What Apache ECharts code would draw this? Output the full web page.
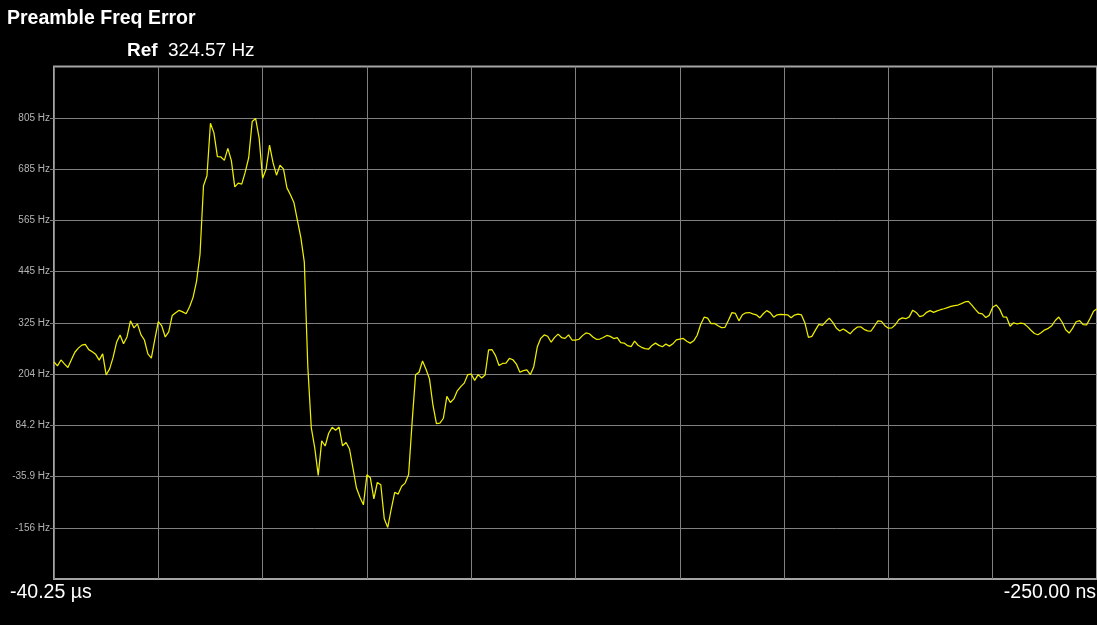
<!DOCTYPE html>
<html>
<head>
<meta charset="utf-8">
<script src="https://cdn.jsdelivr.net/npm/echarts@6/dist/echarts.min.js"></script>
<style>
html,body{margin:0;padding:0;background:#000;}
#chart{width:1097px;height:625px;}
</style>
</head>
<body>
<div id="chart"></div>
<script>
const chartTitle = 'Preamble Freq Error';
const refLabel = 'Ref';
const refValueText = '324.57 Hz';
const refHz = 324.57;
const hzPerDiv = 120.1;
const xStartLabel = '-40.25 µs';
const xEndLabel = '-250.00 ns';
const yTickLabels = ['-156 Hz', '-35.9 Hz', '84.2 Hz', '204 Hz', '325 Hz', '445 Hz', '565 Hz', '685 Hz', '805 Hz'];
const yTickDivs = [-4, -3, -2, -1, 0, 1, 2, 3, 4];
const sampleCount = 301;
const freqHz = [
  233.0, 223.6, 237.4, 228.3, 219.6, 237.9, 255.5, 265.1, 272.1, 274.0,
  261.6, 256.6, 250.6, 237.0, 251.5, 202.5, 216.6, 243.3, 278.7, 296.0,
  275.4, 291.3, 329.1, 312.6, 322.0, 296.7, 284.1, 251.7, 241.9, 285.5,
  327.0, 317.1, 291.3, 303.0, 341.5, 348.0, 353.7, 350.1, 345.5, 361.9,
  384.1, 421.6, 485.1, 645.8, 669.0, 792.0, 769.6, 714.0, 713.1, 705.1,
  733.2, 705.1, 642.8, 651.7, 649.6, 677.5, 711.2, 796.0, 803.0, 757.9,
  663.4, 684.5, 740.7, 699.7, 670.4, 693.6, 685.0, 640.7, 624.3, 606.5,
  565.0, 524.2, 466.6, 222.7, 79.0, 31.5, -33.0, 47.9, 35.7, 65.7,
  79.5, 72.5, 80.2, 36.2, 44.1, 28.7, -16.6, -62.7, -84.5, -102.1,
  -31.8, -38.8, -88.3, -49.8, -55.2, -134.9, -155.0, -111.9, -72.8, -77.0,
  -58.7, -51.2, -30.9, 91.2, 202.5, 208.6, 234.9, 215.6, 193.1, 131.3,
  88.2, 89.4, 100.8, 151.9, 137.6, 146.1, 165.0, 174.9, 183.1, 202.8,
  204.2, 189.6, 203.0, 195.0, 202.1, 261.1, 261.3, 247.5, 224.3, 229.2,
  230.2, 241.2, 237.9, 227.8, 208.6, 212.4, 214.2, 202.8, 221.7, 267.7,
  288.0, 296.0, 293.0, 278.9, 290.2, 297.9, 289.9, 288.0, 296.2, 284.1,
  283.8, 285.9, 294.4, 300.7, 298.8, 291.3, 285.7, 286.4, 289.9, 294.8,
  292.7, 287.6, 289.7, 278.2, 277.0, 270.9, 268.8, 281.5, 271.9, 267.0,
  263.9, 262.5, 271.4, 276.8, 271.6, 268.4, 274.9, 269.8, 275.2, 284.3,
  286.4, 287.8, 281.2, 276.8, 282.2, 295.3, 320.6, 337.7, 335.4, 322.7,
  323.0, 317.6, 313.1, 313.8, 330.5, 348.3, 346.4, 329.1, 343.3, 348.0,
  348.5, 345.5, 343.1, 336.1, 345.7, 353.0, 348.3, 337.5, 343.1, 344.3,
  343.8, 343.1, 336.3, 342.6, 344.7, 342.9, 323.9, 290.4, 292.7, 307.3,
  320.6, 318.3, 327.4, 335.4, 325.3, 312.4, 305.2, 310.1, 304.9, 298.6,
  307.7, 314.1, 315.2, 309.1, 305.6, 305.2, 316.9, 329.1, 327.6, 317.6,
  311.9, 312.6, 319.9, 331.9, 335.9, 334.0, 338.4, 354.1, 348.7, 338.9,
  341.2, 349.0, 353.0, 349.0, 352.5, 355.1, 357.4, 360.2, 363.0, 364.9,
  366.1, 369.4, 373.3, 374.7, 365.8, 356.0, 346.9, 345.5, 337.0, 341.9,
  360.9, 366.3, 356.5, 338.4, 337.5, 316.4, 324.6, 321.6, 323.7, 322.3,
  315.5, 307.0, 299.3, 296.5, 301.9, 308.0, 311.5, 317.8, 329.8, 337.9,
  325.8, 308.2, 300.5, 311.9, 326.9, 329.5, 320.4, 319.7, 334.4, 351.3,
  357.2
];

const seriesData = freqHz.map((v, i) => [i, v]);
const font = '"Liberation Sans", Arial, sans-serif';

const chart = echarts.init(document.getElementById('chart'), null, {renderer: 'canvas'});
chart.setOption({
  backgroundColor: '#000000',
  animation: false,
  grid: {
    left: 54, top: 66.5, width: 1047.5, height: 512.5,
    show: true, borderColor: '#a4a4a4', borderWidth: 2, backgroundColor: 'transparent'
  },
  xAxis: {
    type: 'value', min: 0, max: sampleCount - 1, interval: (sampleCount - 1) / 10,
    axisLine: {show: false}, axisTick: {show: false}, axisLabel: {show: false},
    splitLine: {show: true, lineStyle: {color: '#808080', width: 1}}
  },
  yAxis: [
    {
      type: 'value', min: refHz - 5 * hzPerDiv, max: refHz + 5 * hzPerDiv,
      show: false, splitLine: {show: false}
    },
    {
      type: 'value', min: -5, max: 5, interval: 1, position: 'left',
      axisLine: {show: false},
      axisTick: {show: true, length: 4, customValues: yTickDivs, lineStyle: {color: '#808080'}},
      axisLabel: {
        color: '#b4b4b4', fontSize: 10, fontFamily: font, margin: 4,
        customValues: yTickDivs,
        formatter: v => {
          const k = yTickDivs.indexOf(Math.round(v));
          return k >= 0 ? yTickLabels[k] : '';
        }
      },
      splitLine: {show: true, lineStyle: {color: '#808080', width: 1}}
    }
  ],
  series: [{
    type: 'line', xAxisIndex: 0, yAxisIndex: 0, data: seriesData,
    symbol: 'none', lineStyle: {color: '#eeee00', width: 1.25}, z: 5
  }],
  graphic: [
    {type: 'text', left: 7, top: 9, style: {text: chartTitle, fill: '#ffffff', font: 'bold 19.5px ' + font}},
    {type: 'text', left: 127, top: 41, style: {text: refLabel, fill: '#ffffff', font: 'bold 19px ' + font}},
    {type: 'text', left: 168, top: 41, style: {text: refValueText, fill: '#ffffff', font: '19px ' + font}},
    {type: 'text', left: 10, top: 583, style: {text: xStartLabel, fill: '#ffffff', font: '19.5px ' + font}},
    {type: 'text', right: 1, top: 583, style: {text: xEndLabel, fill: '#ffffff', font: '19.5px ' + font}}
  ]
});
</script>
</body>
</html>
